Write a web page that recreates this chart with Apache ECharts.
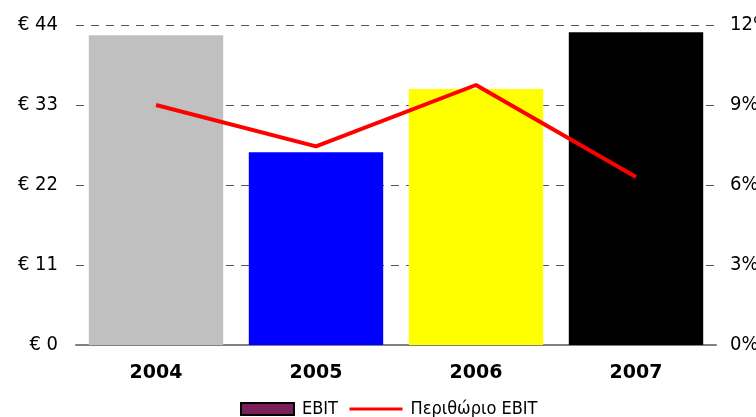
<!DOCTYPE html>
<html>
<head>
<meta charset="utf-8">
<script src="https://cdn.jsdelivr.net/npm/echarts@6/dist/echarts.min.js"></script>
<style>
html, body { margin: 0; padding: 0; background: #fff; }
#main { width: 756px; height: 417px; }
</style>
</head>
<body>
<div id="main"></div>
<script>
var years = ['2004', '2005', '2006', '2007'];
var ebit = [42.6, 26.5, 35.2, 43.0];
var barColors = ['#C0C0C0', '#0000FF', '#FFFF00', '#000000'];
var margin = [9.0, 7.45, 9.75, 6.3];

var font = 'DejaVu Sans Condensed';

var chart = echarts.init(document.getElementById('main'));
var option = {
	animation: false,
	textStyle: { fontFamily: font },
	grid: { left: 76, right: 40, top: 25, bottom: 72, containLabel: false, outerBoundsMode: 'none' },
	legend: {
		top: 395,
		left: 235,
		itemWidth: 53,
		itemHeight: 12,
		itemGap: 10,
		textStyle: { fontFamily: font, fontSize: 18, color: '#000', padding: [0, 0, 0, 3] },
		data: [
			{ name: 'EBIT', icon: 'rect', itemStyle: { color: '#7B1F5B', borderColor: '#000', borderWidth: 2 } },
			{ name: 'Περιθώριο EBIT', itemStyle: { color: 'rgba(0,0,0,0)', borderWidth: 0, opacity: 0 }, lineStyle: { color: '#FF0000', width: 3, opacity: 1 } }
		]
	},
	xAxis: {
		type: 'category',
		data: years,
		axisLine: { lineStyle: { color: '#808080', width: 2 } },
		axisTick: { show: false },
		axisLabel: { fontFamily: 'DejaVu Sans', fontSize: 19, fontWeight: 'bold', color: '#000', margin: 19 }
	},
	yAxis: [{
		type: 'value',
		min: 0, max: 44, interval: 11,
		axisLine: { show: false },
		axisTick: { show: false },
		axisLabel: { fontFamily: font, fontSize: 20, color: '#000', margin: 18,
			formatter: function (v) { return '€ ' + v; } },
		splitLine: { lineStyle: { color: '#555', type: [8, 7], width: 1 } }
	}, {
		type: 'value',
		min: 0, max: 12, interval: 3,
		axisLine: { show: false },
		axisTick: { show: false },
		axisLabel: { fontFamily: font, fontSize: 20, color: '#000', margin: 14,
			formatter: '{value}%' },
		splitLine: { show: false }
	}],
	series: [{
		name: 'EBIT',
		type: 'bar',
		barWidth: '84%',
		data: ebit.map(function (v, i) {
			return { value: v, itemStyle: { color: barColors[i] } };
		})
	}, {
		name: 'Περιθώριο EBIT',
		type: 'line',
		yAxisIndex: 1,
		symbol: 'none',
		lineStyle: { color: '#FF0000', width: 4 },
		itemStyle: { color: '#FF0000' },
		data: margin
	}]
};
chart.setOption(option);
</script>
</body>
</html>
